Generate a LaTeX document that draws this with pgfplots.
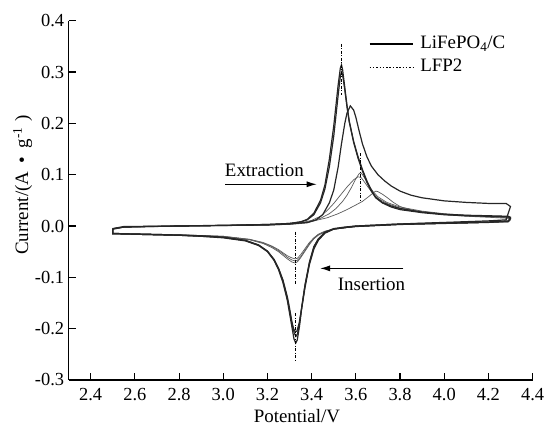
\documentclass[border=0pt]{standalone}
\usepackage{fontspec}
\setmainfont{Liberation Serif}
\usepackage{pgfplots}
\pgfplotsset{compat=1.18}
\usetikzlibrary{arrows.meta}

\newcommand{\lblfont}{\fontsize{19}{22}\selectfont}
\newcommand{\tckfont}{\fontsize{18.5}{21}\selectfont}

\begin{document}
\begin{tikzpicture}
\useasboundingbox (-68.6bp,-46bp) rectangle (479.4bp,380bp);
\begin{axis}[
  at={(0,0)}, anchor=south west,
  scale only axis, width=464bp, height=359.3bp,
  xmin=2.3, xmax=4.4, ymin=-0.3, ymax=0.4,
  axis lines*=left,
  axis line style={line width=1.2bp},
  tick style={line width=1.1bp, black},
  tick align=inside, major tick length=7bp,
  xtick={2.4,2.6,2.8,3.0,3.2,3.4,3.6,3.8,4.0,4.2,4.4},
  ytick={-0.3,-0.2,-0.1,0,0.1,0.2,0.3,0.4},
  /pgf/number format/assume math mode=true,
  /pgf/number format/.cd, fixed, fixed zerofill, precision=1, /pgfplots/.cd,
  tick label style={font=\tckfont},
  xticklabel style={anchor=base, yshift=-20bp},
  yticklabel style={anchor=east, xshift=-1bp},
  xlabel={Potential/V},
  xlabel style={font=\lblfont, at={(axis description cs:0.492,0)}, anchor=base, yshift=-42bp},
  ylabel={Current/(A\hspace{0.45em}\textbullet\hspace{0.45em}g\textsuperscript{-1}\hspace{0.3em})},
  ylabel style={font=\lblfont, at={(axis description cs:-0.0991,0.543)}, anchor=center},
  legend image code/.code={\draw[#1] (0bp,0bp) -- (43bp,0bp);},
  legend style={at={(axis description cs:0.647,0.962)}, anchor=north west,
    draw=none, fill=none, font=\lblfont, row sep=4bp, column sep=6bp, inner sep=0pt,
    nodes={inner sep=1bp, text height=13bp, text depth=4bp}},
  legend cell align=left,
  clip=false,
]
\addlegendimage{line width=1.3bp, black}
\addlegendimage{line width=1.1bp, black, dash pattern=on 1.5bp off 1.8bp}
\legend{LiFePO\textsubscript{4}/C, LFP2}

% LFP2, thin curves
\addplot[line width=0.7bp, black!65] coordinates {
(2.50,-0.005)(2.55,-0.002)(2.80,0.000)(3.00,0.001)(3.20,0.002)(3.30,0.004)
(3.36,0.006)(3.40,0.009)(3.44,0.015)(3.48,0.024)(3.51,0.034)(3.54,0.048)
(3.56,0.060)(3.58,0.075)(3.60,0.092)(3.615,0.102)(3.622,0.104)(3.63,0.100)
(3.645,0.090)(3.66,0.078)(3.68,0.066)(3.70,0.057)(3.74,0.046)(3.80,0.037)
(3.90,0.029)(4.00,0.024)(4.10,0.021)(4.20,0.019)(4.29,0.017)(4.30,0.014)
(4.29,0.009)(4.20,0.007)(4.00,0.005)(3.80,0.003)(3.70,0.001)(3.60,-0.001)
(3.50,-0.006)(3.46,-0.011)(3.43,-0.018)(3.41,-0.025)(3.39,-0.036)(3.37,-0.049)
(3.35,-0.062)(3.335,-0.070)(3.325,-0.072)(3.31,-0.070)(3.29,-0.064)(3.27,-0.057)
(3.25,-0.050)(3.22,-0.042)(3.18,-0.034)(3.12,-0.027)(3.00,-0.021)(2.80,-0.017)
(2.60,-0.015)(2.50,-0.014)(2.50,-0.005)};
\addplot[line width=0.7bp, black!65] coordinates {
(2.50,-0.005)(2.55,-0.002)(2.80,0.000)(3.00,0.001)(3.20,0.002)(3.30,0.004)
(3.36,0.007)(3.40,0.011)(3.44,0.019)(3.47,0.030)(3.50,0.044)(3.53,0.060)
(3.56,0.076)(3.59,0.090)(3.61,0.096)(3.625,0.094)(3.64,0.085)(3.66,0.073)
(3.68,0.062)(3.70,0.054)(3.74,0.044)(3.80,0.035)(3.90,0.028)(4.00,0.023)
(4.10,0.020)(4.20,0.018)(4.29,0.016)(4.30,0.013)
(4.29,0.008)(4.20,0.007)(4.00,0.005)(3.80,0.003)(3.70,0.001)(3.60,-0.001)
(3.50,-0.006)(3.46,-0.011)(3.43,-0.017)(3.41,-0.024)(3.39,-0.034)(3.37,-0.047)
(3.35,-0.060)(3.335,-0.067)(3.325,-0.068)(3.31,-0.066)(3.29,-0.061)(3.27,-0.054)
(3.25,-0.048)(3.22,-0.040)(3.18,-0.033)(3.12,-0.026)(3.00,-0.020)(2.80,-0.017)
(2.60,-0.015)(2.50,-0.014)(2.50,-0.005)};
\addplot[line width=0.7bp, black!65] coordinates {
(2.50,-0.005)(2.55,-0.002)(2.80,0.000)(3.00,0.001)(3.20,0.002)(3.30,0.003)
(3.38,0.006)(3.42,0.011)(3.47,0.016)(3.52,0.024)(3.56,0.032)(3.60,0.041)
(3.63,0.048)(3.66,0.058)(3.68,0.065)(3.69,0.068)(3.70,0.067)(3.72,0.062)
(3.74,0.056)(3.77,0.046)(3.80,0.038)(3.85,0.031)(3.90,0.027)(4.00,0.022)
(4.10,0.019)(4.20,0.017)(4.29,0.015)(4.30,0.012)
(4.29,0.008)(4.20,0.007)(4.00,0.005)(3.80,0.003)(3.70,0.001)(3.60,-0.001)
(3.50,-0.006)(3.46,-0.010)(3.43,-0.016)(3.41,-0.023)(3.39,-0.032)(3.37,-0.044)
(3.35,-0.056)(3.335,-0.063)(3.325,-0.064)(3.31,-0.062)(3.29,-0.058)(3.27,-0.052)
(3.25,-0.046)(3.22,-0.039)(3.18,-0.032)(3.12,-0.026)(3.00,-0.020)(2.80,-0.017)
(2.60,-0.015)(2.50,-0.014)(2.50,-0.005)};

% LiFePO4/C, solid curves
\addplot[line width=1.2bp, black!85] coordinates {
(2.50,-0.006)(2.55,-0.002)(2.65,-0.001)(2.80,0.000)(3.00,0.001)(3.20,0.003)
(3.30,0.005)(3.35,0.008)(3.38,0.013)(3.41,0.025)(3.44,0.050)(3.46,0.080)
(3.48,0.130)(3.50,0.195)(3.51,0.235)(3.52,0.275)(3.53,0.308)(3.535,0.314)
(3.54,0.305)(3.55,0.270)(3.56,0.235)(3.57,0.205)(3.59,0.165)(3.61,0.135)
(3.63,0.110)(3.65,0.088)(3.67,0.070)(3.69,0.056)(3.72,0.046)(3.76,0.039)
(3.80,0.034)(3.90,0.027)(4.00,0.023)(4.10,0.021)(4.20,0.020)(4.29,0.019)
(4.30,0.017)
(4.29,0.010)(4.20,0.008)(4.00,0.006)(3.80,0.004)(3.70,0.002)(3.60,0.000)
(3.55,-0.002)(3.50,-0.005)(3.46,-0.012)(3.43,-0.025)(3.41,-0.040)(3.39,-0.070)
(3.37,-0.115)(3.355,-0.160)(3.345,-0.195)(3.335,-0.222)(3.328,-0.228)(3.32,-0.220)
(3.31,-0.195)(3.30,-0.170)(3.29,-0.145)(3.27,-0.110)(3.25,-0.085)(3.23,-0.067)
(3.20,-0.050)(3.16,-0.038)(3.10,-0.029)(3.00,-0.023)(2.90,-0.020)(2.80,-0.018)
(2.70,-0.017)(2.60,-0.016)(2.50,-0.015)(2.50,-0.006)};
\addplot[line width=1.2bp, black!85] coordinates {
(2.50,-0.005)(2.55,-0.001)(2.80,0.000)(3.00,0.0015)(3.20,0.003)(3.30,0.005)
(3.35,0.008)(3.38,0.012)(3.41,0.022)(3.44,0.045)(3.46,0.072)(3.48,0.115)
(3.50,0.175)(3.51,0.215)(3.52,0.255)(3.53,0.292)(3.535,0.300)(3.54,0.295)
(3.55,0.265)(3.56,0.232)(3.57,0.203)(3.59,0.163)(3.61,0.132)(3.63,0.107)
(3.65,0.085)(3.67,0.068)(3.69,0.055)(3.72,0.045)(3.76,0.037)(3.80,0.032)
(3.90,0.026)(4.00,0.022)(4.10,0.020)(4.20,0.019)(4.29,0.018)(4.30,0.015)
(4.29,0.009)(4.20,0.007)(4.00,0.005)(3.80,0.003)(3.70,0.001)(3.60,-0.001)
(3.55,-0.003)(3.50,-0.006)(3.46,-0.013)(3.43,-0.026)(3.41,-0.042)(3.39,-0.072)
(3.37,-0.115)(3.355,-0.158)(3.345,-0.190)(3.336,-0.210)(3.329,-0.215)(3.321,-0.208)
(3.31,-0.188)(3.30,-0.165)(3.29,-0.141)(3.27,-0.107)(3.25,-0.083)(3.23,-0.066)
(3.20,-0.049)(3.16,-0.037)(3.10,-0.028)(3.00,-0.022)(2.90,-0.019)(2.80,-0.018)
(2.70,-0.017)(2.60,-0.016)(2.50,-0.015)(2.50,-0.005)};
\addplot[line width=1.2bp, black!85] coordinates {
(2.50,-0.006)(2.55,-0.002)(2.80,0.000)(3.00,0.001)(3.20,0.002)(3.30,0.004)
(3.38,0.007)(3.42,0.012)(3.45,0.022)(3.48,0.045)(3.50,0.070)(3.52,0.115)
(3.535,0.160)(3.55,0.200)(3.56,0.220)(3.575,0.234)(3.59,0.226)(3.60,0.212)
(3.615,0.185)(3.63,0.160)(3.65,0.135)(3.67,0.117)(3.70,0.100)(3.73,0.088)
(3.76,0.078)(3.80,0.068)(3.85,0.060)(3.90,0.055)(4.00,0.049)(4.10,0.046)
(4.20,0.044)(4.28,0.044)(4.30,0.038)
(4.28,0.012)(4.20,0.010)(4.00,0.007)(3.80,0.004)(3.70,0.002)(3.60,0.000)
(3.55,-0.003)(3.50,-0.006)(3.46,-0.014)(3.43,-0.028)(3.41,-0.045)(3.39,-0.075)
(3.37,-0.120)(3.355,-0.160)(3.343,-0.190)(3.333,-0.205)(3.326,-0.206)(3.318,-0.200)
(3.31,-0.185)(3.30,-0.160)(3.29,-0.138)(3.27,-0.105)(3.25,-0.082)(3.23,-0.065)
(3.20,-0.049)(3.16,-0.037)(3.10,-0.028)(3.00,-0.022)(2.80,-0.018)(2.60,-0.016)
(2.50,-0.015)(2.50,-0.006)};

% peak markers
\addplot[line width=1bp, black, dash pattern=on 3bp off 1.5bp on 1bp off 1.5bp] coordinates {(3.534,0.355)(3.534,0.255)};
\addplot[line width=1bp, black, dash pattern=on 3bp off 1.5bp on 1bp off 1.5bp] coordinates {(3.622,0.142)(3.622,0.047)};
\addplot[line width=1bp, black, dash pattern=on 3bp off 1.5bp on 1bp off 1.5bp] coordinates {(3.328,-0.011)(3.328,-0.115)};
\addplot[line width=1bp, black, dash pattern=on 3bp off 1.5bp on 1bp off 1.5bp] coordinates {(3.328,-0.170)(3.328,-0.261)};

% annotations
\node[font=\lblfont, anchor=base] at (axis cs:3.186,0.0955) {Extraction};
\draw[line width=1.1bp, -{Latex[length=10bp,width=6bp]}] (axis cs:3.008,0.0813) -- (axis cs:3.423,0.0813);
\node[font=\lblfont, anchor=base] at (axis cs:3.671,-0.1248) {Insertion};
\draw[line width=1.1bp, -{Latex[length=10bp,width=6bp]}] (axis cs:3.815,-0.0825) -- (axis cs:3.438,-0.0825);
\end{axis}
\end{tikzpicture}
\end{document}
